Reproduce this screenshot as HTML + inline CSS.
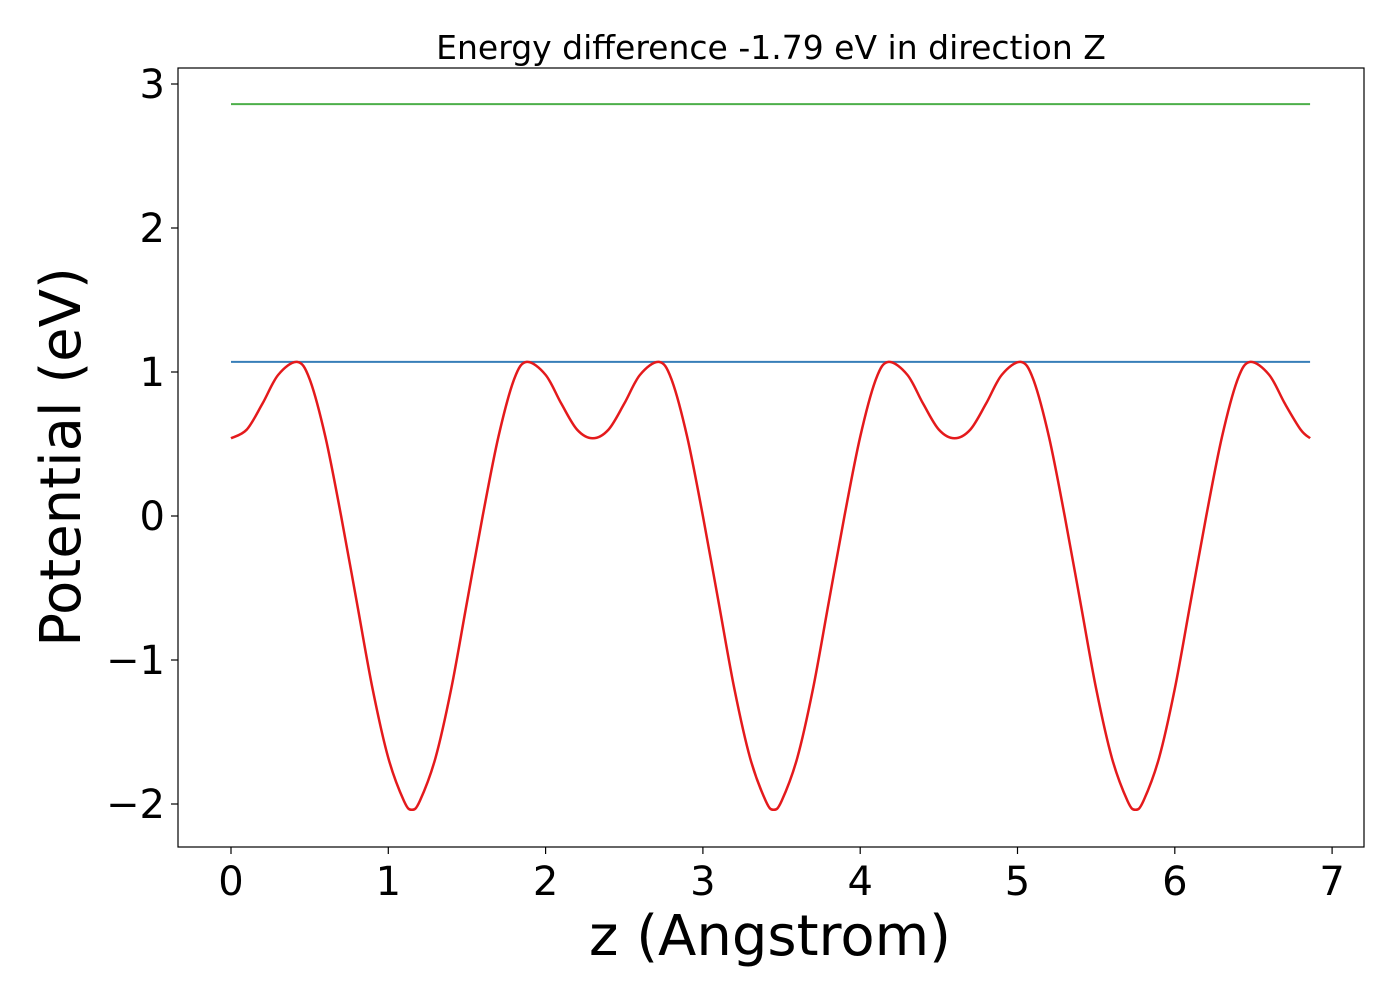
<!DOCTYPE html>
<html><head><meta charset="utf-8"><style>
html,body{margin:0;padding:0;background:#fff;}
svg{display:block;font-family:"DejaVu Sans","Liberation Sans",sans-serif;}
</style></head><body>
<svg id="chart" width="1400" height="1000">
<text x="771" y="59" font-size="33" text-anchor="middle">Energy difference -1.79 eV in direction Z</text>
<g id="plot"></g>
<rect x="178" y="68" width="1186" height="779" fill="none" stroke="#000" stroke-width="1.2"/>
<text x="770" y="955" font-size="56" text-anchor="middle">z (Angstrom)</text>
<text transform="translate(80,457) rotate(-90)" font-size="56" text-anchor="middle">Potential (eV)</text>
</svg>
<script>
const xTicks=[0,1,2,3,4,5,6,7];
const yTicks=[-2,-1,0,1,2,3];
const zValues=[0,0.1,0.2,0.3,0.42,0.5,0.6,0.7,0.8,0.9,1.0,1.1,1.15,1.2,1.3,1.4,1.5,1.6,1.7,1.8,1.88,2.0,2.1,2.2,
2.3,2.4,2.5,2.6,2.72,2.8,2.9,3.0,3.1,3.2,3.3,3.4,3.45,3.5,3.6,3.7,3.8,3.9,4.0,4.1,4.18,4.3,4.4,4.5,
4.6,4.7,4.8,4.9,5.02,5.1,5.2,5.3,5.4,5.5,5.6,5.7,5.75,5.8,5.9,6.0,6.1,6.2,6.3,6.4,6.48,6.6,6.7,6.8,6.86];
const potential=[0.54,0.6,0.78,0.98,1.07,0.95,0.55,0.0,-0.6,-1.2,-1.68,-1.98,-2.04,-1.98,-1.68,-1.2,-0.6,0.0,0.55,0.95,1.07,0.98,0.78,0.6,
0.54,0.6,0.78,0.98,1.07,0.95,0.55,0.0,-0.6,-1.2,-1.68,-1.98,-2.04,-1.98,-1.68,-1.2,-0.6,0.0,0.55,0.95,1.07,0.98,0.78,0.6,
0.54,0.6,0.78,0.98,1.07,0.95,0.55,0.0,-0.6,-1.2,-1.68,-1.98,-2.04,-1.98,-1.68,-1.2,-0.6,0.0,0.55,0.95,1.07,0.98,0.78,0.6,0.54];
const barrierLevel=[1.07];
const upperLevel=[2.86];
const xRange=[0,6.86];
const NS="http://www.w3.org/2000/svg";
const sx=v=>231+v*157.3;
const sy=v=>516-v*144;
const g=document.getElementById('plot');
function mk(t,a){const e=document.createElementNS(NS,t);for(const k in a)e.setAttribute(k,a[k]);g.appendChild(e);return e;}
xTicks.forEach(t=>{
  const l=mk('line',{x1:sx(t),x2:sx(t),y1:847,y2:854,stroke:'#000','stroke-width':1.2});
  
  
  const tx=mk('text',{x:sx(t),y:895,'font-size':40,'text-anchor':'middle'});
  tx.textContent=String(t);
  
  
});
yTicks.forEach(t=>{
  const l=mk('line',{x1:171,x2:178,y1:sy(t),y2:sy(t),stroke:'#000','stroke-width':1.2});
  
  
  const tx=mk('text',{x:165,y:sy(t)+14,'font-size':40,'text-anchor':'end'});
  tx.textContent=t<0?'\u2212'+Math.abs(t):String(t);
  
  
});
const gl=mk('line',{x1:sx(xRange[0]),x2:sx(xRange[1]),y1:sy(upperLevel[0]),y2:sy(upperLevel[0]),stroke:'#4daf4a','stroke-width':2});


const bl=mk('line',{x1:sx(xRange[0]),x2:sx(xRange[1]),y1:sy(barrierLevel[0]),y2:sy(barrierLevel[0]),stroke:'#377eb8','stroke-width':2});


const pts=zValues.map((z,i)=>[sx(z),sy(potential[i])]);
let d='M'+pts[0][0]+','+pts[0][1];
for(let i=0;i<pts.length-1;i++){
  const p0=pts[Math.max(0,i-1)],p1=pts[i],p2=pts[i+1],p3=pts[Math.min(pts.length-1,i+2)];
  const c1=[p1[0]+(p2[0]-p0[0])/6,p1[1]+(p2[1]-p0[1])/6];
  const c2=[p2[0]-(p3[0]-p1[0])/6,p2[1]-(p3[1]-p1[1])/6];
  d+=' C'+c1[0]+','+c1[1]+' '+c2[0]+','+c2[1]+' '+p2[0]+','+p2[1];
}
const pl=mk('path',{d:d,fill:'none',stroke:'#e41a1c','stroke-width':2.5});


</script>
</body></html>
